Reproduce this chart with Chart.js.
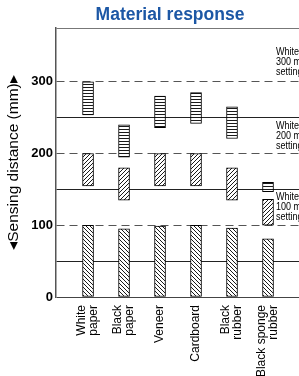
<!DOCTYPE html>
<html>
<head>
<meta charset="utf-8">
<script src="https://cdn.jsdelivr.net/npm/chart.js@4.4.1/dist/chart.umd.min.js"></script>
<style>
  html, body { margin: 0; padding: 0; background: #fff; overflow: hidden; width: 299px; height: 376px; }
  #wrap { width: 340px; height: 376px; }
</style>
</head>
<body>
<div id="wrap"><canvas id="materialChart" width="340" height="376"></canvas></div>
<script>
// materials on the x axis
const materials = [
  ["White", "paper"],
  ["Black", "paper"],
  "Veneer",
  "Cardboard",
  ["Black", "rubber"],
  ["Black sponge", "rubber"],
];

// sensing ranges (mm) for each distance setting
const range100 = [[0, 100], [0, 95], [0, 99], [0, 100], [0, 96], [0, 81]];
const range200 = [[155, 200], [135, 180], [155, 200], [155, 200], [135, 180], [100, 136]];
const range300 = [[254, 300], [195, 240], [236, 280], [242, 285], [221, 265], [147, 160]];

const yTicks = [0, 50, 100, 150, 200, 250, 300, 375];
const yLabels = [0, 100, 200, 300];

const noteLines = [
  ["White paper", "300 mm", "setting"],
  ["White paper", "200 mm", "setting"],
  ["White paper", "100 mm", "setting"],
];

Chart.defaults.font.family = "'Liberation Sans', Arial, sans-serif";

function hatch(kind) {
  const c = document.createElement("canvas");
  const n = kind === "h" ? 3 : 4;
  c.width = n;
  c.height = n;
  const g = c.getContext("2d");
  g.fillStyle = "#fff";
  g.fillRect(0, 0, n, n);
  g.strokeStyle = "#000";
  g.lineWidth = 0.9;
  g.beginPath();
  if (kind === "h") {
    g.moveTo(0, 0.5);
    g.lineTo(n, 0.5);
  } else if (kind === "/") {
    g.moveTo(-1, n + 1); g.lineTo(n + 1, -1);
    g.moveTo(-1, 1); g.lineTo(1, -1);
    g.moveTo(n - 1, n + 1); g.lineTo(n + 1, n - 1);
  } else {
    g.moveTo(-1, -1); g.lineTo(n + 1, n + 1);
    g.moveTo(-1, n - 1); g.lineTo(1, n + 1);
    g.moveTo(n - 1, -1); g.lineTo(n + 1, 1);
  }
  g.stroke();
  return g.createPattern(c, "repeat");
}

const toPoints = (ranges) => ranges.map((r, i) => ({ x: i, y: r }));

const barStyle = {
  borderColor: "#000",
  borderWidth: 1,
  borderSkipped: false,
  barThickness: 11,
  grouped: false,
};

// notes on the right side of the plot
const notesPlugin = {
  id: "notes",
  afterDatasetsDraw(chart) {
    const { ctx, scales } = chart;
    const anchors = [342, 239, 140];
    const x = scales.x.getPixelForValue(5.22);
    ctx.save();
    ctx.fillStyle = "#000";
    ctx.font = "11px 'Liberation Sans', Arial, sans-serif";
    ctx.textBaseline = "middle";
    ctx.translate(x, 0);
    ctx.scale(0.82, 1);
    noteLines.forEach((lines, k) => {
      const y0 = scales.y.getPixelForValue(anchors[k]);
      lines.forEach((t, j) => ctx.fillText(t, 0, y0 + j * 10));
    });
    ctx.restore();
  },
};

new Chart(document.getElementById("materialChart"), {
  type: "bar",
  data: {
    datasets: [
      { label: "100 mm", data: toPoints(range100), backgroundColor: hatch("\\"), ...barStyle },
      { label: "200 mm", data: toPoints(range200), backgroundColor: hatch("/"), ...barStyle },
      { label: "300 mm", data: toPoints(range300), backgroundColor: hatch("h"), ...barStyle },
    ],
  },
  options: {
    responsive: false,
    animation: false,
    layout: { padding: 0 },
    plugins: {
      legend: { display: false },
      tooltip: { enabled: false },
      title: {
        display: true,
        text: "Material response",
        color: "#1c57a5",
        font: { size: 17.5, weight: "bold" },
        padding: { top: 5, bottom: 2 },
      },
    },
    scales: {
      x: {
        type: "linear",
        offset: false,
        min: -0.89,
        max: 7,
        // two-line labels stack to the right of the tick, so nudge them back
        afterBuildTicks: (s) => {
          s.ticks = materials.map((m, i) => ({ value: Array.isArray(m) ? i - 0.17 : i }));
        },
        afterFit: (s) => {
          s.height = 79;
        },
        ticks: {
          autoSkip: false,
          minRotation: 90,
          maxRotation: 90,
          padding: 0,
          color: "#000",
          font: { size: 12, lineHeight: 1 },
          callback: (v, i) => materials[i],
        },
        grid: { display: false },
        border: { display: false },
      },
      y: {
        min: 0,
        max: 375,
        afterBuildTicks: (s) => {
          s.ticks = yTicks.map((v) => ({ value: v }));
        },
        afterFit: (s) => {
          s.width = 56;
        },
        ticks: {
          padding: 3,
          color: "#000",
          font: { size: 13, weight: "bold" },
          callback: (v) => (yLabels.includes(v) ? v : ""),
        },
        grid: {
          drawTicks: false,
          lineWidth: 1,
          color: (ctx) => {
            const v = ctx.tick && ctx.tick.value;
            if (v === 375) return "#777";
            if (v === 0) return "#444";
            return v % 100 === 0 ? "#555" : "#222";
          },
        },
        border: {
          color: "#555",
          width: 1.5,
          dash: (ctx) => {
            const v = ctx.tick && ctx.tick.value;
            return v && v % 100 === 0 && v <= 300 ? [8, 5] : [];
          },
        },
        title: {
          display: true,
          text: "◂Sensing distance (mm)▸",
          color: "#000",
          font: { size: 15.5 },
          padding: { top: 4, bottom: 0 },
        },
      },
    },
  },
  plugins: [notesPlugin],
});
</script>
</body>
</html>
